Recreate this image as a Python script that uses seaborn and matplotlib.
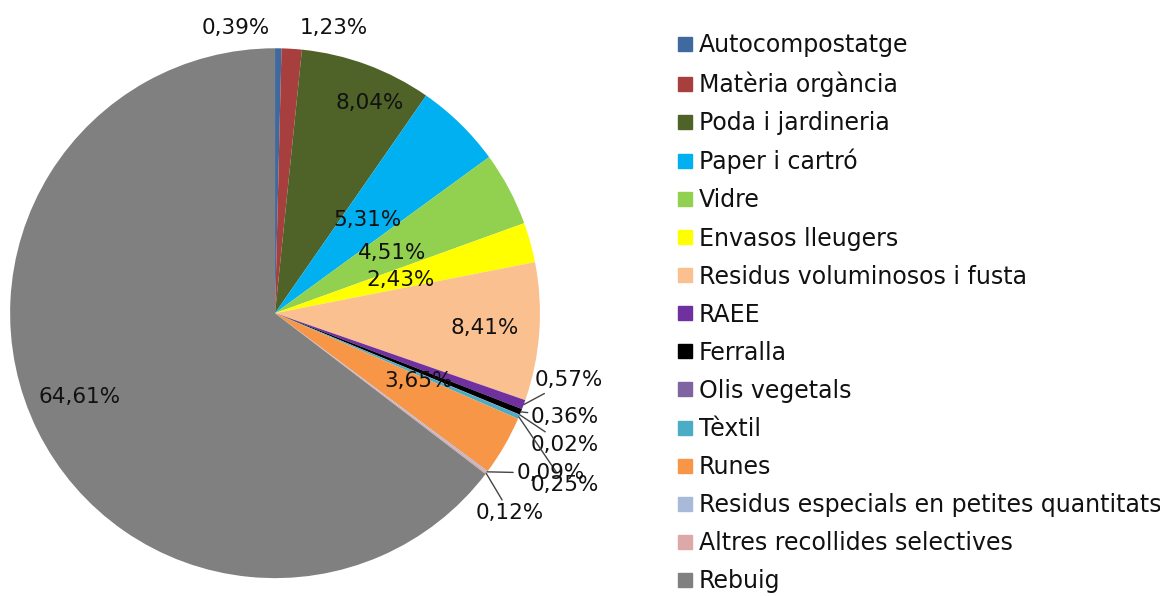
import numpy as np
import seaborn as sns
import matplotlib
matplotlib.use('Agg')
from matplotlib import pyplot as plt
from matplotlib.lines import Line2D

sns.set_theme(style='white')
plt.rcParams['font.family'] = ['DejaVu Sans']

# Data
categories = ['Autocompostatge', 'Matèria orgància', 'Poda i jardineria',
              'Paper i cartró', 'Vidre', 'Envasos lleugers',
              'Residus voluminosos i fusta', 'RAEE', 'Ferralla',
              'Olis vegetals', 'Tèxtil', 'Runes',
              'Residus especials en petites quantitats',
              'Altres recollides selectives', 'Rebuig']
shares = [0.39, 1.23, 8.04, 5.31, 4.51, 2.43, 8.41, 0.57, 0.36,
          0.02, 0.25, 3.65, 0.09, 0.12, 64.61]
labels = [f'{v:.2f}%'.replace('.', ',') for v in shares]

colors = ['#3F6AA0', '#A63F3D', '#4F6228', '#00B0F0', '#92D050', '#FFFF00',
          '#FAC090', '#7030A0', '#000000', '#8064A2', '#4BACC6', '#F79646',
          '#A9B9DA', '#DCA9A8', '#808080']

# label placement (in pie-radius units, relative to centre) and leader flag
label_pos = [(-0.147, 1.075), (0.223, 1.075), (0.358, 0.792), (0.347, 0.351),
             (0.442, 0.226), (0.475, 0.125), (0.792, -0.057), (1.11, -0.253),
             (1.095, -0.392), (1.095, -0.498), (1.095, -0.649), (0.540, -0.257),
             (1.04, -0.604), (0.887, -0.755), (-0.736, -0.317)]
leader = [False, False, False, False, False, False, False, True, True,
          True, True, False, True, True, False]

fig = plt.figure(figsize=(11.6, 5.96), dpi=100)
ax = fig.add_axes([0.0086, 0.030, 0.457, 0.889])
wedges, _ = ax.pie(shares, colors=colors, startangle=90, counterclock=False,
                   wedgeprops={'linewidth': 0})
ax.set_aspect('equal')
ax.set_xlim(-1, 1)
ax.set_ylim(-1, 1)

for w, lab, (lx, ly), lead in zip(wedges, labels, label_pos, leader):
    mid = np.deg2rad((w.theta1 + w.theta2) / 2)
    edge = (np.cos(mid), np.sin(mid))
    if lead:
        ax.annotate(lab, xy=edge, xytext=(lx, ly), ha='center', va='center',
                    fontsize=15.5, color='#111111', annotation_clip=False,
                    arrowprops={'arrowstyle': '-', 'color': '#444444',
                                'lw': 1, 'shrinkA': 0, 'shrinkB': 0})
    else:
        ax.text(lx, ly, lab, ha='center', va='center', fontsize=15.5,
                color='#111111', clip_on=False)

handles = [Line2D([], [], marker='s', linestyle='', markersize=10,
                  markerfacecolor=c, markeredgecolor=c) for c in colors]
fig.legend(handles, categories, loc='upper left',
           bbox_to_anchor=(0.572, 0.96), frameon=False, fontsize=17,
           labelspacing=0.595, handletextpad=0.1, handlelength=1.0,
           borderaxespad=0, labelcolor='#111111')

fig.savefig('out.png', dpi=100)
